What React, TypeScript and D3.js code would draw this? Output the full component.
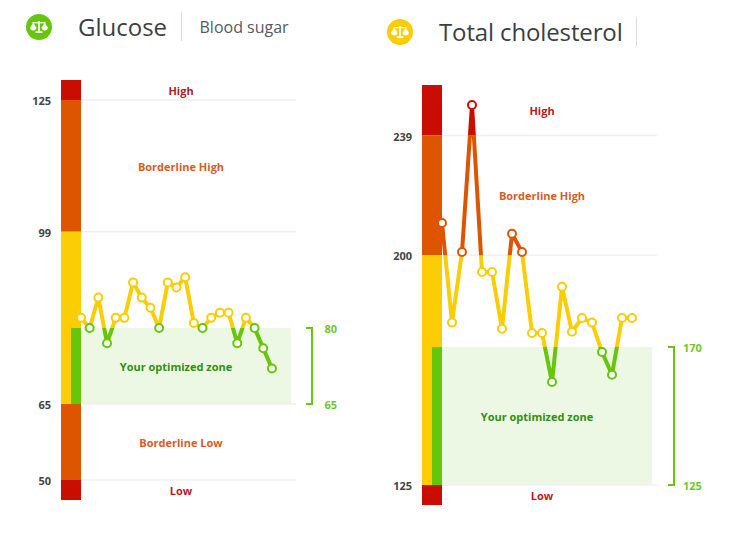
import React from "react";
import * as d3 from "d3";

const FONT = "'Open Sans', sans-serif";
const GREEN = "#66c60a";
const YELLOW = "#fbcd05";
const ORANGE = "#dd5500";
const RED = "#c90d00";

// Glucose
const glucoseValues = [82, 80, 86, 77, 82, 82, 89, 86, 84, 80, 89, 88, 90, 81, 80, 82, 83, 83, 77, 82, 80, 76, 72];
const glucoseTicks = [125, 99, 65, 50];
const glucoseThresholds = [65, 80, 99, 125];
const glucoseZone = [65, 80];

// Total cholesterol
const cholesterolValues = [210.5, 178, 201, 249, 194.5, 194.5, 176, 207, 201, 174.6, 174.6, 158.6, 189.7, 175, 179.5, 178, 168.4, 161, 179.5, 179.5];
const cholesterolTicks = [239, 200, 125];
const cholesterolThresholds = [125, 170, 200, 239];
const cholesterolZone = [125, 170];

interface PanelProps {
  id: string;
  values: number[];
  ticks: number[];
  thresholds: number[];
  zone: number[];
  domain: [number, number];
  barX: number;
  barTop: number;
  step: number;
  hasLowBand: boolean;
  bracketX: number;
  zoneLabelX: number;
  labels: { text: string; y: number; color: string; dx?: number }[];
}

function Panel({ id, values, ticks, thresholds, zone, domain, barX, barTop, step, hasLowBand, bracketX, zoneLabelX, labels }: PanelProps) {
  const barW = 20;
  const plotLeft = barX + barW;
  const y = d3.scaleLinear().domain(domain).range([barTop + 420, barTop]);
  const x = d3.scaleLinear().domain([0, 1]).range([plotLeft, plotLeft + step]);
  const line = d3.line<number>().x((_, i) => x(i)).y((d) => y(d));
  const [t0, t1, t2, t3] = thresholds;
  // band: [low, high, colour]
  const bands: [number, number, string][] = [
    [domain[0], t0, hasLowBand ? ORANGE : RED],
    [t0, t1, GREEN],
    [t1, t2, YELLOW],
    [t2, t3, ORANGE],
    [t3, domain[1], RED],
  ];
  const colorOf = (v: number) => {
    if (v > t3) return RED;
    if (v >= t2) return ORANGE;
    if (v > t1) return YELLOW;
    if (v >= t0) return GREEN;
    return ORANGE;
  };
  const zoneTop = y(zone[1]);
  const zoneBottom = y(zone[0]);
  const gridEnd = plotLeft + 215;
  return (
    <g>
      <defs>
        {bands.map((b, i) => (
          <clipPath id={`${id}-band-${i}`} key={i}>
            <rect x={barX} y={y(b[1])} width={320} height={y(b[0]) - y(b[1])} />
          </clipPath>
        ))}
      </defs>
      {/* colour bar */}
      <rect x={barX} y={y(domain[1])} width={barW} height={y(t3) - y(domain[1])} fill={RED} />
      <rect x={barX} y={y(t3)} width={barW} height={y(t2) - y(t3)} fill={ORANGE} />
      <rect x={barX} y={y(t2)} width={barW} height={y(t0) - y(t2)} fill={YELLOW} />
      <rect x={barX + 10} y={zoneTop} width={10} height={zoneBottom - zoneTop} fill={GREEN} />
      {hasLowBand ? (
        <>
          <rect x={barX} y={y(t0)} width={barW} height={y(50) - y(t0)} fill={ORANGE} />
          <rect x={barX} y={y(50)} width={barW} height={y(domain[0]) - y(50)} fill={RED} />
        </>
      ) : (
        <rect x={barX} y={y(t0)} width={barW} height={y(domain[0]) - y(t0)} fill={RED} />
      )}
      {/* optimized zone */}
      <rect x={plotLeft} y={zoneTop} width={210} height={zoneBottom - zoneTop} fill="#edf8e4" />
      {/* grid + ticks */}
      {ticks.map((t) => (
        <g key={t}>
          <line x1={plotLeft} x2={gridEnd} y1={y(t)} y2={y(t)} stroke="#eef0f6" strokeWidth={1.5} />
          <text x={barX - 10} y={y(t) + 5} textAnchor="end" fontFamily={FONT} fontWeight={700} fontSize={11} fill="#444">
            {t}
          </text>
        </g>
      ))}
      {/* bracket */}
      <path
        d={`M${bracketX},${zoneTop} H${bracketX + 6} V${zoneBottom} H${bracketX}`}
        fill="none"
        stroke={GREEN}
        strokeWidth={2}
      />
      {zone.map((z) => (
        <text key={z} x={zoneLabelX} y={y(z) + 5} fontFamily={FONT} fontWeight={700} fontSize={11} fill="#6cc82a">
          {z}
        </text>
      ))}
      {/* labels */}
      {labels.map((l) => (
        <text
          key={l.text}
          x={plotLeft + 100 + (l.dx ?? 0)}
          y={l.y}
          textAnchor="middle"
          fontFamily={FONT}
          fontWeight={700}
          fontSize={11}
          fill={l.color}
        >
          {l.text}
        </text>
      ))}
      {/* line, coloured by band */}
      {bands.map((b, i) => (
        <path
          key={i}
          d={line(values) ?? ""}
          fill="none"
          stroke={b[2]}
          strokeWidth={4}
          strokeLinejoin="round"
          clipPath={`url(#${id}-band-${i})`}
        />
      ))}
      {values.map((v, i) => (
        <circle key={i} cx={x(i)} cy={y(v)} r={4} fill="#fff" stroke={colorOf(v)} strokeWidth={2} />
      ))}
    </g>
  );
}

function ScaleIcon({ cx, cy, color }: { cx: number; cy: number; color: string }) {
  return (
    <g transform={`translate(${cx},${cy}) scale(0.85)`}>
      <circle r={15.3} fill={color} />
      <path d="M-1,-7 H1 V5 H4 V7 H-4 V5 H-1 Z" fill="#fff" />
      <path d="M-8,-5 H8" stroke="#fff" strokeWidth={1.4} />
      <path d="M-10.5,1 A3.8,3.8 0 0 0 -3,1 L-6.7,-5 Z M3,1 A3.8,3.8 0 0 0 10.5,1 L6.7,-5 Z" fill="#fff" />
    </g>
  );
}

export default function App() {
  return (
    <svg width={751} height={533} style={{ position: "absolute", left: 0, top: 0, background: "#fff" }}>
      <ScaleIcon cx={39} cy={27} color={GREEN} />
      <text x={78} y={36} fontFamily={FONT} fontSize={24} fill="#3b3f44">Glucose</text>
      <line x1={181.5} x2={181.5} y1={12} y2={41} stroke="#d5dde2" />
      <text x={199.5} y={33} fontFamily={FONT} fontSize={16} fill="#555a60">Blood sugar</text>

      <ScaleIcon cx={400} cy={32} color={YELLOW} />
      <text x={439} y={41} fontFamily={FONT} fontSize={24} letterSpacing={-0.13} fill="#3b3f44">Total cholesterol</text>
      <line x1={636.5} x2={636.5} y1={17} y2={46} stroke="#d5dde2" />

      <Panel
        id="glucose"
        values={glucoseValues}
        ticks={glucoseTicks}
        thresholds={glucoseThresholds}
        zone={glucoseZone}
        domain={[46.05, 128.95]}
        barX={61}
        barTop={80}
        step={8.68}
        hasLowBand={true}
        bracketX={306}
        zoneLabelX={324.5}
        labels={[
          { text: "High", y: 95, color: "#b8191f" },
          { text: "Borderline High", y: 171, color: "#d95c1e" },
          { text: "Your optimized zone", y: 371, color: "#2f8f12", dx: -5 },
          { text: "Borderline Low", y: 447, color: "#d95c1e" },
          { text: "Low", y: 495, color: "#b8191f" },
        ]}
      />
      <Panel
        id="chol"
        values={cholesterolValues}
        ticks={cholesterolTicks}
        thresholds={cholesterolThresholds}
        zone={cholesterolZone}
        domain={[118.5, 255.5]}
        barX={422}
        barTop={85}
        step={10}
        hasLowBand={false}
        bracketX={668}
        zoneLabelX={683}
        labels={[
          { text: "High", y: 115, color: "#b8191f" },
          { text: "Borderline High", y: 200, color: "#d95c1e" },
          { text: "Your optimized zone", y: 421, color: "#2f8f12", dx: -5 },
          { text: "Low", y: 500, color: "#b8191f" },
        ]}
      />
    </svg>
  );
}
